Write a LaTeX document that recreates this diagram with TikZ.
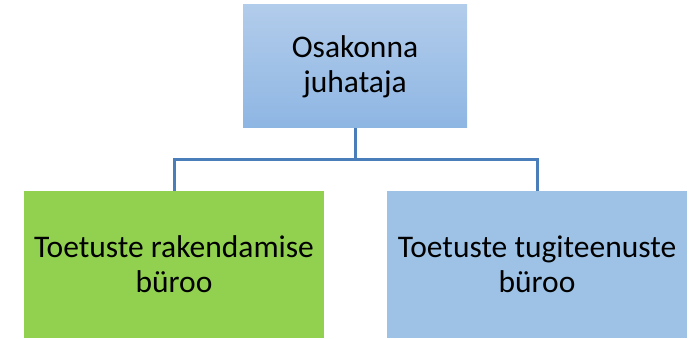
\documentclass[tikz,border=0pt]{standalone}
\usepackage{fontspec}
\setmainfont{Carlito}
\definecolor{topTop}{RGB}{178,204,235}
\definecolor{topBot}{RGB}{142,182,227}
\definecolor{boxGreen}{RGB}{146,208,80}
\definecolor{boxBlue}{RGB}{157,194,230}
\definecolor{linkBlue}{RGB}{74,126,187}
\tikzset{
  unit/.style={rectangle, inner sep=0pt, align=center, font=\fontsize{31.5}{35}\selectfont},
  link/.style={draw=linkBlue, line width=3pt}
}
\begin{document}
\begin{tikzpicture}[x=1pt, y=-1pt]
      \useasboundingbox (0,0) rectangle (695,339);
      \node[unit, minimum width=224pt, minimum height=123pt, top color=topTop, bottom color=topBot] (head) at (355,66.5){Osakonna\\juhataja};
      \node[unit, minimum width=300pt, minimum height=147pt, fill=boxGreen] (impl) at (174,264.5){Toetuste rakendamise\\büroo};
      \node[unit, minimum width=300pt, minimum height=147pt, fill=boxBlue] (supp) at (537,264.5){Toetuste tugiteenuste\\büroo};
      \coordinate (fork) at (355,160);
      \draw[link](head.south) -- (fork);
      \draw[link](fork) -| (impl.north);
      \draw[link](fork) -| (supp.north);

    \end{tikzpicture}
\end{document}
